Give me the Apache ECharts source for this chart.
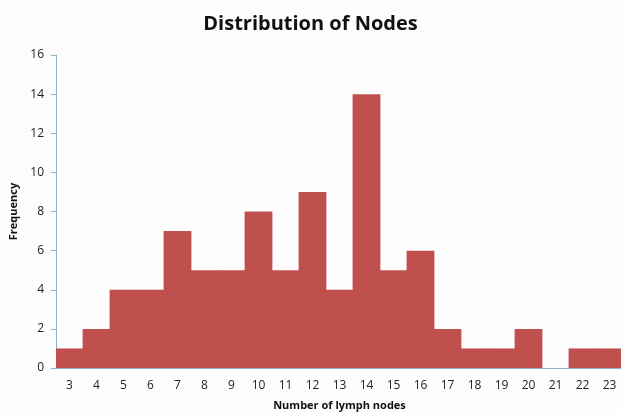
<!DOCTYPE html>
<html lang="en">

<head>
    <meta charset="UTF-8">
    <title>Distribution of Nodes</title>
    <script src="https://cdn.jsdelivr.net/npm/echarts@6/dist/echarts.min.js"></script>
    <style>
        html, body { margin: 0; padding: 0; background: #fdfdfe; }
    </style>
</head>

<body>
    <div id="chart" style="width: 621px; height: 413px;"></div>
    <script>
        // number of lymph nodes and how often each count occurs
        var nodes = ['3', '4', '5', '6', '7', '8', '9', '10', '11', '12', '13', '14', '15', '16', '17', '18', '19', '20', '21', '22', '23'];
        var frequency = [1, 2, 4, 4, 7, 5, 5, 8, 5, 9, 4, 14, 5, 6, 2, 1, 1, 2, 0, 1, 1];
        var yTicks = [0, 2, 4, 6, 8, 10, 12, 14, 16];

        var myChart = echarts.init(document.getElementById('chart'));
        var axisColor = '#8fb3c6';
        var barColor = '#c0504d';
        var font = '"Open Sans", "DejaVu Sans", sans-serif';

        var option = {
            backgroundColor: '#fdfdfe',
            animation: false,
            title: {
                text: 'Distribution of Nodes',
                left: 'center',
                top: 9,
                textStyle: {
                    fontFamily: font,
                    fontWeight: 'bold',
                    fontSize: 20,
                    color: '#111'
                }
            },
            grid: {
                left: 56,
                right: -2,
                top: 55,
                bottom: 45,
                outerBoundsMode: 'none'
            },
            xAxis: {
                type: 'category',
                data: nodes,
                name: 'Number of lymph nodes',
                nameLocation: 'middle',
                nameGap: 32,
                nameTextStyle: {
                    fontFamily: font,
                    fontWeight: 'bold',
                    fontSize: 11,
                    color: '#111'
                },
                axisLine: { lineStyle: { color: axisColor, width: 1 } },
                axisTick: { length: 5, lineStyle: { color: axisColor } },
                axisLabel: {
                    fontFamily: font,
                    fontSize: 12,
                    color: '#222',
                    margin: 12
                }
            },
            yAxis: {
                type: 'value',
                min: yTicks[0],
                max: yTicks[yTicks.length - 1],
                interval: 2,
                name: 'Frequency',
                nameLocation: 'middle',
                nameGap: 37,
                nameRotate: 90,
                nameTextStyle: {
                    fontFamily: font,
                    fontWeight: 'bold',
                    fontSize: 11,
                    color: '#111'
                },
                axisLine: { show: true, lineStyle: { color: axisColor, width: 1 } },
                axisTick: { show: true, length: 5, lineStyle: { color: axisColor } },
                splitLine: { show: false },
                axisLabel: {
                    fontFamily: font,
                    fontSize: 12,
                    color: '#222',
                    margin: 12
                }
            },
            series: [
                {
                    name: 'Frequency',
                    type: 'bar',
                    data: frequency,
                    barWidth: '103%',
                    itemStyle: { color: barColor }
                }
            ]
        };

        myChart.setOption(option);
    </script>
</body>

</html>
